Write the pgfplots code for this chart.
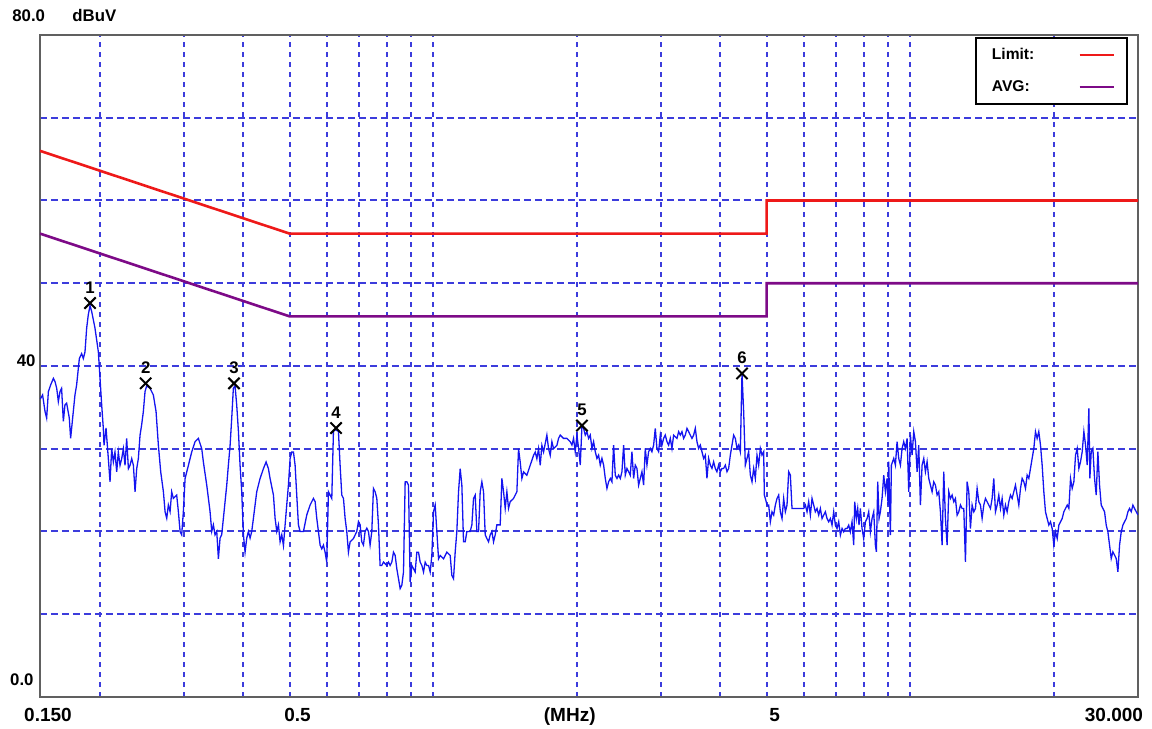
\documentclass[border=0pt]{standalone}
\usepackage{pgfplots}
\pgfplotsset{compat=1.18}
\usepackage{fontspec}
\newfontfamily\lbl{Liberation Sans}
\newcommand\lf{\lbl\bfseries\fontsize{8.4pt}{9pt}\selectfont}
\newcommand\xf{\lbl\bfseries\fontsize{9.5pt}{10pt}\selectfont}
\newcommand\gf{\lbl\bfseries\fontsize{7.8pt}{9pt}\selectfont}
\definecolor{gridblue}{RGB}{60,60,220}
\definecolor{traceblue}{RGB}{20,20,240}
\definecolor{limred}{RGB}{238,25,25}
\definecolor{avgpurple}{RGB}{125,10,135}
\begin{document}
\begin{tikzpicture}
\begin{axis}[
  scale only axis, width=549pt, height=331pt,
  clip mode=individual,
  xmode=log, xmin=0.15, xmax=30, ymin=0, ymax=80,
  axis line style={draw=gray!75!black, line width=1.1pt},
  xtick={0.15,0.5,1.86,5,30},
  xticklabels={0.150,0.5,(MHz),5,\llap{30.000\hspace{1.5pt}}},
  minor xtick={0.2,0.3,0.4,0.5,0.6,0.7,0.8,0.9,1,2,3,4,5,6,7,8,9,10,20},
  xminorgrids=true, xmajorgrids=false,
  ytick={10,20,30,40,50,60,70}, yticklabels={}, ymajorgrids=true,
  major tick length=0pt, minor tick length=0pt,
  x grid style={gridblue, line width=1pt, dash pattern=on 2.5pt off 2.5pt},
  y grid style={gridblue, line width=1pt, dash pattern=on 3.5pt off 2pt},
  xticklabel style={font=\xf, anchor=base, xshift=4pt, yshift=-12.5pt, inner sep=0pt},
  legend plot pos=right,
  legend cell align=left,
  legend style={at={(1,1)}, anchor=north east, xshift=-5pt, yshift=-1pt,
    draw=black, line width=0.9pt, fill=white, font=\gf,
    inner xsep=6pt, inner ysep=3pt, row sep=5pt, column sep=20pt},
]
\coordinate (SW) at (rel axis cs:0,0);
\coordinate (NE) at (rel axis cs:1,1);
\addplot[limred, line width=1.3pt] coordinates {(0.15,66) (0.5,56) (5,56) (5,60) (30,60)};
\addlegendentry{Limit:}
\addplot[avgpurple, line width=1.3pt] coordinates {(0.15,56) (0.5,46) (5,46) (5,50) (30,50)};
\addlegendentry{AVG:}
\addplot[traceblue, line width=0.65pt, forget plot] table {
f L
0.1502 36.0
0.1519 36.5
0.1537 34.5
0.1549 33.7
0.1562 36.9
0.1579 37.7
0.1600 38.5
0.1613 38.1
0.1626 37.3
0.1639 35.7
0.1652 36.9
0.1665 37.3
0.1679 33.3
0.1692 35.3
0.1706 35.5
0.1728 33.7
0.1739 31.25
0.1756 33.7
0.1776 36.5
0.1790 37.7
0.1814 40.9
0.1834 41.5
0.1849 40.9
0.1864 41.7
0.1879 44.6
0.1894 46.2
0.1910 47.3
0.1925 46.6
0.1956 44.6
0.1988 41.7
0.2004 38.5
0.2020 35.3
0.2036 32.5
0.2043 30.4
0.2063 32.5
0.2086 28.8
0.2103 26.0
0.2120 30.0
0.2137 28.4
0.2154 29.6
0.2172 27.2
0.2189 29.6
0.2207 28.0
0.2225 28.8
0.2243 30.0
0.2261 28.0
0.2279 31.25
0.2298 27.6
0.2316 28.0
0.2335 28.8
0.2354 28.0
0.2373 24.8
0.2392 27.6
0.2411 28.8
0.2431 31.65
0.2450 32.9
0.2470 34.5
0.2490 36.9
0.2510 37.6
0.2551 37.3
0.2592 36.5
0.2626 34.5
0.2656 30.4
0.2686 27.2
0.2721 24.8
0.2743 22.4
0.2765 21.6
0.2787 23.2
0.2810 22.4
0.2832 24.8
0.2855 24.0
0.2901 24.4
0.2925 22.4
0.2949 20.0
0.2972 19.6
0.2996 22.4
0.3021 26.4
0.3070 28.0
0.3119 29.6
0.3170 30.85
0.3221 31.25
0.3274 30.0
0.3300 28.4
0.3354 25.6
0.3408 22.4
0.3436 20.0
0.3463 20.8
0.3491 19.6
0.3520 20.0
0.3548 16.7
0.3577 19.2
0.3605 19.6
0.3635 21.6
0.3694 25.6
0.3723 28.0
0.3754 30.4
0.3784 33.7
0.3814 37.3
0.3845 37.6
0.3876 35.3
0.3908 32.1
0.3939 28.0
0.3971 24.8
0.4003 19.6
0.4035 17.5
0.4068 19.2
0.4101 20.0
0.4134 19.2
0.4167 20.0
0.4201 21.6
0.4269 24.8
0.4338 26.4
0.4409 27.6
0.4466 28.4
0.4516 27.6
0.4553 26.4
0.4627 24.4
0.4664 21.6
0.4702 20.0
0.4740 20.8
0.4778 18.75
0.4817 19.6
0.4856 18.3
0.4895 20.8
0.4934 23.2
0.4974 25.6
0.5014 28.8
0.5055 29.6
0.5096 29.6
0.5137 28.0
0.5178 24.4
0.5220 20.8
0.5262 20.0
0.5348 20.0
0.5435 22.0
0.5523 23.2
0.5612 24.0
0.5658 23.6
0.5703 21.6
0.5749 20.0
0.5796 18.35
0.5843 17.9
0.5890 18.35
0.5937 17.5
0.5985 16.3
0.6034 24.8
0.6083 24.4
0.6132 24.0
0.6181 32.1
0.6231 32.3
0.6332 32.1
0.6383 28.0
0.6435 24.4
0.6487 24.0
0.6539 21.6
0.6592 20.0
0.6645 17.5
0.6699 18.75
0.6808 19.15
0.6918 20.0
0.6974 21.2
0.7031 20.8
0.7087 18.75
0.7145 18.35
0.7202 20.0
0.7261 20.4
0.7319 20.0
0.7378 18.35
0.7438 20.0
0.7498 25.2
0.7559 24.8
0.7620 24.0
0.7681 20.8
0.7743 15.9
0.7806 15.9
0.7869 16.3
0.7997 15.9
0.8061 16.3
0.8126 15.9
0.8192 16.3
0.8258 17.5
0.8325 17.1
0.8392 15.5
0.8460 14.3
0.8528 13.1
0.8597 13.5
0.8667 15.1
0.8737 26.0
0.8807 26.0
0.8879 25.6
0.8950 13.9
0.9023 15.9
0.9096 15.5
0.9169 15.1
0.9243 17.5
0.9318 17.5
0.9393 16.3
0.9469 15.9
0.9546 15.1
0.9623 16.3
0.9700 15.9
0.9779 15.9
0.9858 15.1
0.9937 17.1
1.0018 22.4
1.0099 23.2
1.0180 20.0
1.0263 16.7
1.0345 17.1
1.0513 16.7
1.0684 17.5
1.0857 17.1
1.0945 14.7
1.1033 14.3
1.1122 17.5
1.1212 20.0
1.1303 24.8
1.1394 27.6
1.1486 25.6
1.1579 18.75
1.1673 18.75
1.1767 20.0
1.1958 20.0
1.2054 20.8
1.2152 24.0
1.2250 24.4
1.2349 20.0
1.2449 20.0
1.2549 24.8
1.2651 26.0
1.2753 24.8
1.2856 19.6
1.2960 19.15
1.3064 18.75
1.3170 19.6
1.3276 20.0
1.3384 18.75
1.3492 19.6
1.3601 20.8
1.3821 20.8
1.3933 26.4
1.4046 24.8
1.4159 22.8
1.4274 24.8
1.4389 22.8
1.4505 23.6
1.4740 24.0
1.4979 24.8
1.5100 30.0
1.5222 28.4
1.5345 26.4
1.5469 27.2
1.5720 26.8
1.5975 28.0
1.6233 29.2
1.6365 29.6
1.6497 28.8
1.6630 30.0
1.6765 28.0
1.6900 30.4
1.7037 29.6
1.7313 31.65
1.7453 30.0
1.7594 29.2
1.7736 30.85
1.7880 30.0
1.8170 30.4
1.8316 31.25
1.8465 31.65
1.8765 31.25
1.9070 31.25
1.9379 30.85
1.9536 30.44
1.9694 31.25
1.9853 29.64
2.0013 31.65
2.0175 30.04
2.0338 28.02
2.0502 32.7
2.0668 32.46
2.0835 31.65
2.1003 32.06
2.1173 31.25
2.1344 31.65
2.1516 30.04
2.1690 30.85
2.1865 29.64
2.2042 28.83
2.2220 29.23
2.2399 28.02
2.2580 28.83
2.2763 28.02
2.2947 26.41
2.3132 25.2
2.3319 26.01
2.3507 26.41
2.3697 26.01
2.3888 30.44
2.4081 26.81
2.4276 26.41
2.4472 26.81
2.4670 26.41
2.4869 27.22
2.5070 30.44
2.5272 26.81
2.5476 27.62
2.5682 27.22
2.5890 26.81
2.6099 29.64
2.6310 26.41
2.6522 28.02
2.6736 27.62
2.6952 25.6
2.7170 26.41
2.7389 27.22
2.7611 25.6
2.7834 30.04
2.8058 28.02
2.8285 29.64
2.8514 30.04
2.8744 29.64
2.8976 30.44
2.9210 32.46
2.9446 30.04
2.9684 29.64
2.9924 31.65
3.0166 30.44
3.0410 31.25
3.0655 31.65
3.0903 30.85
3.1152 30.44
3.1404 31.25
3.1658 30.04
3.1914 31.65
3.2431 31.25
3.2693 32.06
3.2957 31.65
3.3224 32.06
3.3492 31.25
3.3763 31.65
3.4035 32.46
3.4310 32.06
3.4587 31.65
3.4867 31.25
3.5149 31.65
3.5433 32.46
3.5719 30.85
3.6008 30.04
3.6298 30.44
3.6592 29.64
3.6887 28.83
3.7185 29.23
3.7486 26.41
3.7788 28.83
3.8094 28.02
3.8401 27.62
3.8712 28.43
3.9024 27.62
3.9340 27.22
3.9658 28.02
3.9978 27.22
4.0301 27.62
4.0627 27.62
4.0955 28.02
4.1286 27.22
4.1619 27.62
4.1955 29.23
4.2294 30.44
4.2636 31.65
4.2980 31.25
4.3328 30.04
4.3678 30.44
4.4031 29.64
4.4386 39.1
4.4745 34.48
4.5106 28.02
4.5471 28.83
4.5838 29.64
4.6208 26.81
4.6581 26.01
4.6958 27.62
4.7337 26.41
4.7719 29.23
4.8105 28.02
4.8493 30.04
4.8885 29.23
4.9280 29.64
4.9440 24.4
4.9678 23.99
5.0079 23.19
5.0484 23.19
5.0892 21.17
5.1303 22.38
5.1717 21.98
5.2135 23.19
5.2556 23.99
5.2981 24.4
5.3409 22.38
5.3840 21.57
5.4275 23.99
5.4714 22.38
5.5156 23.19
5.5601 27.22
5.6051 26.81
5.6503 22.78
5.6960 22.78
5.7884 22.78
5.8823 22.78
5.9777 22.78
6.0260 23.19
6.0747 22.38
6.1238 23.59
6.1733 21.98
6.2231 23.99
6.2734 23.19
6.3241 22.38
6.3752 22.78
6.4267 21.98
6.4786 22.78
6.5310 21.57
6.5837 21.98
6.6369 22.38
6.6905 21.57
6.7446 21.17
6.7991 21.57
6.8540 20.77
6.9094 22.38
6.9652 20.77
7.0215 20.36
7.0782 21.17
7.136 19.56
7.194 20.36
7.252 19.96
7.310 20.36
7.369 20.36
7.428 20.77
7.488 19.96
7.549 21.17
7.610 18.35
7.647 23.59
7.708 21.57
7.758 22.78
7.808 20.77
7.859 22.78
7.922 20.36
7.986 19.15
8.051 21.17
8.116 21.57
8.181 22.38
8.247 19.96
8.314 21.57
8.381 22.38
8.449 18.35
8.490 17.54
8.545 26.01
8.600 21.57
8.655 22.38
8.725 23.99
8.796 26.81
8.867 24.80
8.938 26.41
8.981 23.19
9.010 28.43
9.083 19.56
9.127 28.02
9.231 28.83
9.305 28.02
9.380 30.85
9.456 28.83
9.533 28.02
9.610 30.04
9.687 30.85
9.766 30.04
9.845 31.25
9.924 24.80
10.004 31.65
10.085 29.23
10.167 32.06
10.249 30.85
10.332 27.22
10.415 30.44
10.499 23.19
10.584 28.02
10.670 28.83
10.756 27.22
10.843 28.43
10.930 26.41
11.019 25.60
11.108 24.80
11.197 26.01
11.288 25.60
11.379 24.40
11.471 24.80
11.564 22.38
11.657 18.35
11.751 27.22
11.846 21.57
11.942 18.35
12.038 24.80
12.136 23.99
12.234 24.40
12.333 23.59
12.432 23.99
12.533 21.98
12.634 22.38
12.736 23.19
12.839 22.78
12.943 22.78
13.047 16.33
13.153 26.01
13.259 24.80
13.366 20.36
13.474 23.19
13.583 22.38
13.693 22.78
13.803 25.20
13.915 23.59
14.027 23.19
14.141 21.57
14.255 23.19
14.370 23.99
14.486 23.59
14.603 23.19
14.721 22.78
14.840 23.99
14.960 26.41
15.081 22.38
15.203 23.19
15.326 24.40
15.450 22.78
15.574 23.99
15.700 21.98
15.827 23.19
15.955 22.38
16.084 23.59
16.214 24.40
16.345 23.99
16.477 24.80
16.610 25.60
16.744 24.40
16.880 23.19
17.016 25.20
17.153 26.41
17.292 26.01
17.432 25.20
17.573 26.81
17.715 26.41
17.858 27.62
18.002 28.83
18.148 30.04
18.294 32.06
18.442 31.25
18.591 32.06
18.741 30.44
18.893 28.02
19.046 24.80
19.200 22.38
19.355 21.57
19.511 20.77
19.669 21.17
19.828 20.36
19.988 18.35
20.150 19.96
20.313 19.15
20.477 20.77
20.642 21.17
20.809 21.57
20.977 22.38
21.147 22.78
21.318 23.19
21.490 22.78
21.664 26.41
21.839 25.20
22.015 26.01
22.193 29.23
22.372 30.04
22.553 27.62
22.735 28.43
22.919 29.64
23.104 32.06
23.291 30.44
23.479 28.02
23.669 34.88
23.783 26.41
23.937 29.64
24.130 30.04
24.325 26.41
24.522 24.40
24.720 29.64
24.920 25.60
25.122 23.19
25.325 22.78
25.529 22.38
25.736 20.77
25.943 19.96
26.153 18.35
26.365 16.73
26.577 17.54
26.792 17.14
27.009 16.73
27.227 15.12
27.447 18.35
27.669 19.96
27.893 20.77
28.118 21.17
28.345 21.57
28.575 22.38
28.805 22.78
29.039 22.38
29.273 23.19
29.510 22.78
29.748 22.38
30.000 22.0
};
\addplot[only marks, mark=x, mark size=4pt, black, line width=1pt, forget plot,
  point meta=explicit symbolic, nodes near coords,
  nodes near coords style={font=\lf, anchor=base, yshift=5pt, inner sep=0pt, text=black}]
  table[meta=lab] {
f L lab
0.1910 47.6 1
0.2498 37.9 2
0.3826 37.9 3
0.6261 32.5 4
2.0502 32.8 5
4.4386 39.1 6
};
\node[font=\lf, anchor=base east, inner sep=0pt, xshift=-2pt, yshift=-0.5pt] at (rel axis cs:0,0.5) {40};
\node[font=\lf, anchor=base east, inner sep=0pt, xshift=-3pt, yshift=5.5pt] at (rel axis cs:0,0) {0.0};
\node[font=\lf, anchor=base west, inner sep=0pt, xshift=-14pt, yshift=6.5pt] at (rel axis cs:0,1) {80.0};
\node[font=\lf, anchor=base west, inner sep=0pt, xshift=16pt, yshift=6.5pt] at (rel axis cs:0,1) {dBuV};
\end{axis}
\pgfresetboundingbox
\path[use as bounding box] ([shift={(-20pt,-16pt)}]SW) rectangle ([shift={(7pt,17.5pt)}]NE);
\end{tikzpicture}
\end{document}
